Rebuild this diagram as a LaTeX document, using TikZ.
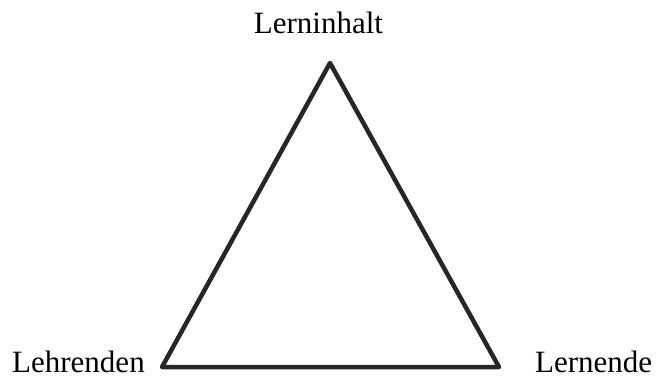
\documentclass[tikz,border=0pt]{standalone}
\usepackage{fontspec}
\setmainfont{Liberation Serif}
\definecolor{linegray}{HTML}{262626}
\begin{document}
\begin{tikzpicture}[x=1pt,y=-1pt,
  lbl/.style={inner sep=0pt,font=\fontsize{31}{36}\selectfont,text=black},
  tri/.style={draw=linegray,line width=4.5pt,line join=round}]
\useasboundingbox (0,0) rectangle (656,378);
\coordinate (top) at (330,63);
\coordinate (left) at (162,367);
\coordinate (right) at (499,367);
\draw[tri] (top) -- (left) -- (right) -- cycle;
\node[lbl,anchor=base] (inhalt) at (318.5,33) {Lerninhalt};
\node[lbl,anchor=base west] (lehr) at (12,372.5) {Lehrenden};
\node[lbl,anchor=base west] (lern) at (535,372.5) {Lernende};
\end{tikzpicture}
\end{document}
